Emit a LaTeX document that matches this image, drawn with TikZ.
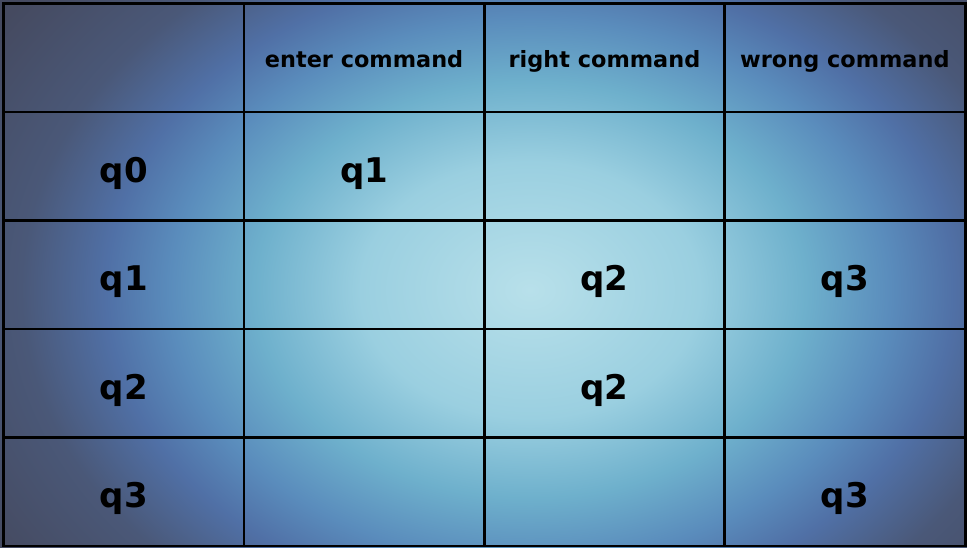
\documentclass[tikz,border=0pt]{standalone}
\usepackage{fontspec}
\setmainfont{DejaVu Sans}
\usepackage{tikz}
\usetikzlibrary{positioning}

\definecolor{bgcentre}{HTML}{B8E0EA}
\definecolor{bglight}{HTML}{9ACFE0}
\definecolor{bgmid}{HTML}{6EB0CC}
\definecolor{bgteal}{HTML}{5A8CBC}
\definecolor{bgblue}{HTML}{5070A6}
\definecolor{bgdark}{HTML}{4A5878}
\definecolor{bgcorner}{HTML}{454A60}
\pgfdeclareradialshading{tablebg}{\pgfpoint{0bp}{0bp}}{%
  color(0bp)=(bgcentre); color(8bp)=(bglight); color(13bp)=(bgmid);
  color(17bp)=(bgteal); color(20bp)=(bgblue); color(24bp)=(bgdark);
  color(30bp)=(bgcorner); color(50bp)=(bgcorner)}

\begin{document}
\begin{tikzpicture}[
    cell/.style={rectangle, draw=black, line width=2.8pt, outer sep=0pt, inner sep=0pt,
                 minimum width=240.4pt, minimum height=108.5pt},
    head/.style={cell, font=\bfseries\fontsize{22.4}{26}\selectfont,
                 text height=20pt, text depth=0pt},
    state/.style={cell, font=\bfseries\fontsize{34}{38}\selectfont,
                  text height=31.8pt, text depth=0pt},
    node distance=0pt
]
\useasboundingbox (0,0) rectangle (967pt,-548pt);

% Background
\begin{scope}
  \clip (0,0) rectangle (967pt,-548pt);
  \shade[shading=tablebg] (0pt,110pt) rectangle (1060pt,-690pt);
\end{scope}

% Header row
\node[cell, anchor=north west] (hd0) at (3.5pt,-3.5pt) {};
\node[head] (hd1) [right=of hd0] {enter command};
\node[head] (hd2) [right=of hd1] {right command};
\node[head] (hd3) [right=of hd2] {wrong command};

% Row q0
\node[state] (q0) [below=of hd0] {q0};
\node[state] (q0a) [below=of hd1] {q1};
\node[cell] (q0b) [below=of hd2] {};
\node[cell] (q0c) [below=of hd3] {};

% Row q1
\node[state] (q1) [below=of q0] {q1};
\node[cell] (q1a) [below=of q0a] {};
\node[state] (q1b) [below=of q0b] {q2};
\node[state] (q1c) [below=of q0c] {q3};

% Row q2
\node[state] (q2) [below=of q1] {q2};
\node[cell] (q2a) [below=of q1a] {};
\node[state] (q2b) [below=of q1b] {q2};
\node[cell] (q2c) [below=of q1c] {};

% Row q3
\node[state] (q3) [below=of q2] {q3};
\node[cell] (q3a) [below=of q2a] {};
\node[cell] (q3b) [below=of q2b] {};
\node[state] (q3c) [below=of q2c] {q3};

\end{tikzpicture}
\end{document}
